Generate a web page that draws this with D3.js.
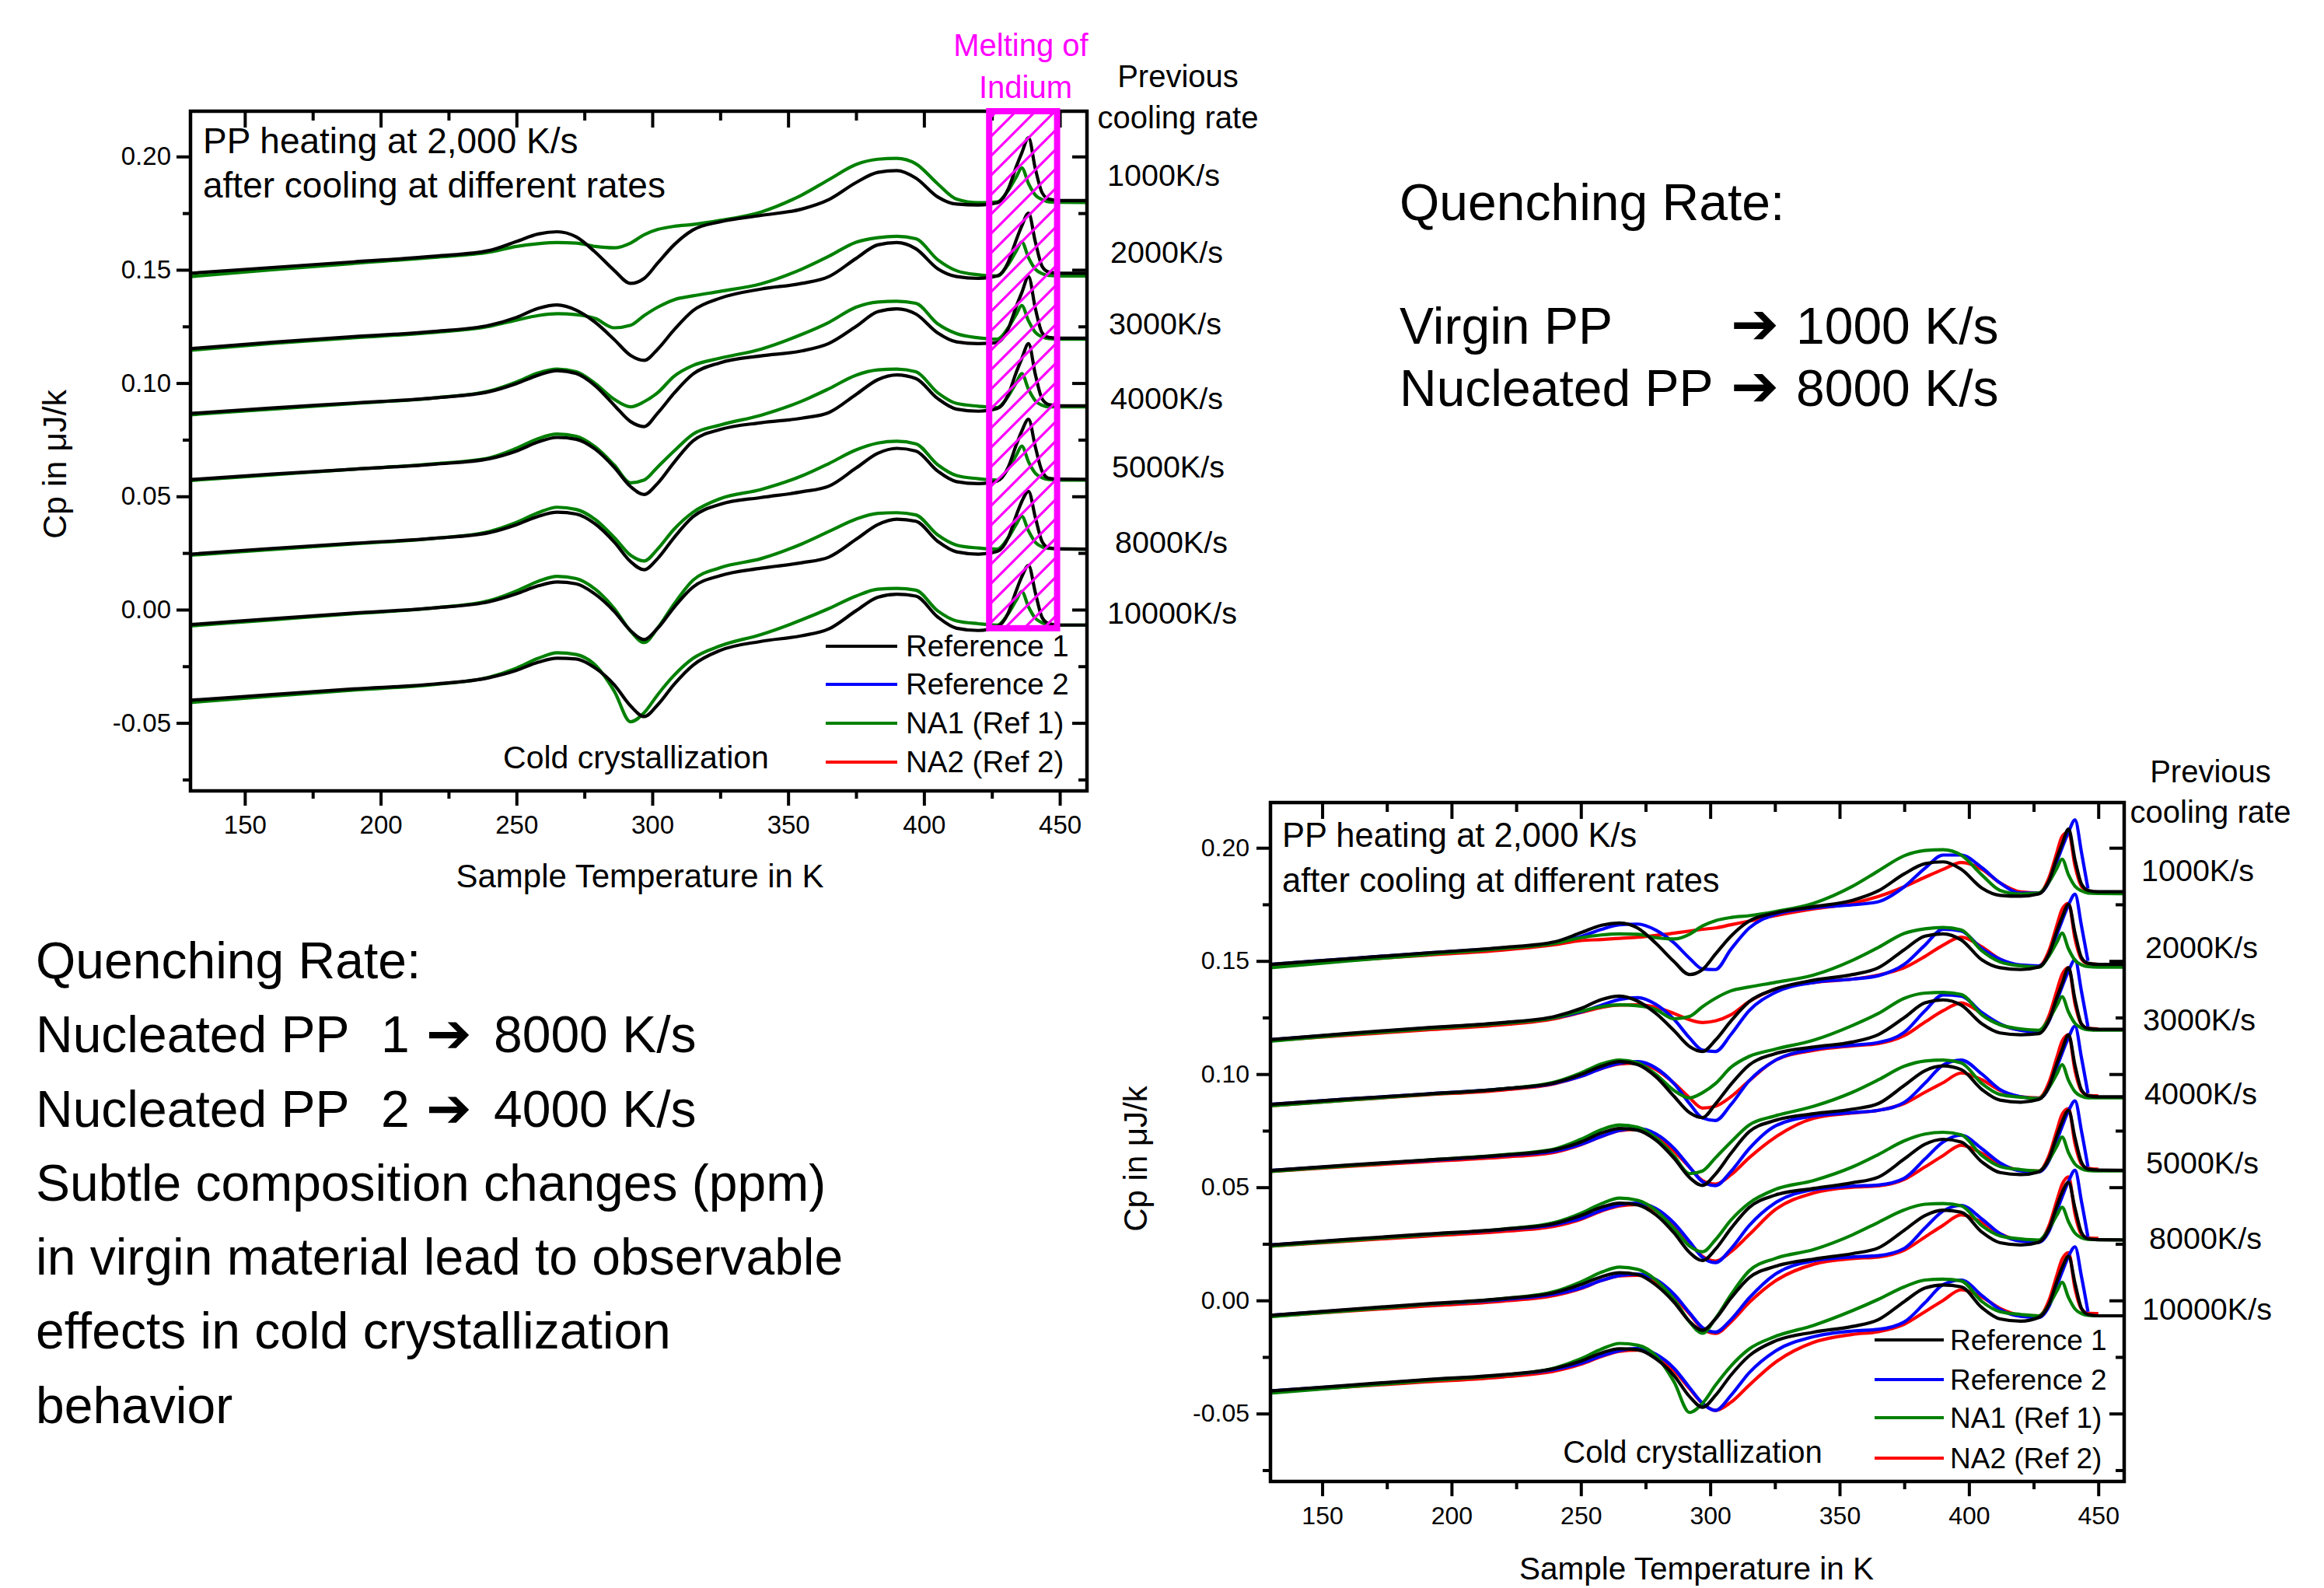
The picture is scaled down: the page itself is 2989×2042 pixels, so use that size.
<!DOCTYPE html>
<html>
<head>
<meta charset="utf-8">
<script src="https://cdn.jsdelivr.net/npm/d3@7"></script>
<style>
  body { margin: 0; background: #fff; overflow: hidden; }
  text { font-family: "Liberation Sans", Arial, sans-serif; }
</style>
</head>
<body>
<svg id="slide" width="2989" height="2042"></svg>
<script>
// sample temperatures (K), shared by every trace
const temps = [130, 160, 190, 220, 240, 250, 258, 265, 272, 279, 286, 292, 297, 302, 308,
  315, 325, 340, 355, 365, 375, 383, 390, 397, 405, 412, 420, 427, 431, 434, 436, 438.5,
  441, 443.5, 446, 450, 460];

const rateLabels = ["1000K/s", "2000K/s", "3000K/s", "4000K/s", "5000K/s", "8000K/s", "10000K/s"];

// Reference 1 (black), one row per previous cooling rate
const ref1 = [
  [.1485,.1510,.1535,.1560,.1585,.1625,.1658,.1668,.1645,.1578,.1497,.1440,.1462,.1530,.1610,.1676,.1712,.1740,.1768,.1810,.1885,.1930,.1938,.1905,.1822,.1790,.1786,.1796,.1856,.1956,.2016,.2083,.1946,.1840,.1812,.1806,.1806],
  [.1152,.1180,.1205,.1228,.1255,.1290,.1330,.1345,.1322,.1268,.1192,.1122,.1100,.1150,.1235,.1320,.1375,.1415,.1440,.1470,.1550,.1610,.1620,.1593,.1505,.1470,.1462,.1473,.1533,.1633,.1693,.1750,.1623,.1515,.1490,.1485,.1485],
  [.0866,.0890,.0912,.0935,.0962,.0998,.1035,.1055,.1042,.0988,.0902,.0830,.0808,.0868,.0955,.1040,.1090,.1120,.1142,.1175,.1250,.1315,.1328,.1305,.1222,.1182,.1174,.1179,.1239,.1339,.1399,.1470,.1329,.1222,.1202,.1198,.1198],
  [.0574,.0598,.0620,.0642,.0666,.0700,.0740,.0760,.0752,.0708,.0628,.0543,.0508,.0558,.0650,.0745,.0795,.0825,.0845,.0870,.0950,.1015,.1036,.1020,.0932,.0885,.0876,.0888,.0948,.1048,.1108,.1174,.1038,.0930,.0905,.0900,.0900],
  [.0245,.0270,.0293,.0315,.0340,.0375,.0412,.0430,.0422,.0378,.0298,.0212,.0176,.0226,.0318,.0410,.0465,.0495,.0520,.0545,.0625,.0690,.0712,.0700,.0612,.0565,.0556,.0568,.0628,.0728,.0788,.0840,.0718,.0610,.0580,.0576,.0575],
  [-.0066,-.0040,-.0015,.0008,.0035,.0070,.0105,.0122,.0114,.0068,-.0008,-.0093,-.0132,-.0082,.0010,.0100,.0150,.0183,.0207,.0232,.0310,.0375,.0399,.0390,.0302,.0255,.0245,.0257,.0317,.0417,.0477,.0522,.0407,.0300,.0272,.0268,.0267],
  [-.0400,-.0375,-.0350,-.0328,-.0300,-.0268,-.0232,-.0214,-.0218,-.0258,-.0332,-.0425,-.0472,-.0420,-.0330,-.0245,-.0180,-.0140,-.0115,-.0085,-.0005,.0055,.0068,.0060,-.0032,-.0082,-.0092,-.0075,-.0015,.0085,.0145,.0195,.0075,-.0035,-.0062,-.0068,-.0068]
];

// Reference 2 (blue)
const ref2 = [
  [.1485,.1510,.1535,.1558,.1580,.1608,.1640,.1660,.1663,.1636,.1580,.1512,.1465,.1462,.1552,.1645,.1705,.1735,.1748,.1762,.1828,.1910,.1968,.1968,.1912,.1845,.1800,.1800,.1850,.1940,.2000,.2070,.2123,.1980,.1820,null,null],
  [.1152,.1178,.1203,.1226,.1250,.1275,.1305,.1330,.1338,.1308,.1242,.1160,.1106,.1100,.1175,.1280,.1360,.1405,.1420,.1435,.1485,.1570,.1640,.1632,.1555,.1508,.1482,.1478,.1528,.1618,.1678,.1748,.1795,.1655,.1500,null,null],
  [.0866,.0890,.0912,.0935,.0960,.0990,.1025,.1048,.1055,.1027,.0958,.0870,.0806,.0795,.0865,.0970,.1060,.1110,.1128,.1140,.1185,.1280,.1350,.1345,.1272,.1222,.1193,.1186,.1236,.1326,.1386,.1456,.1505,.1365,.1210,null,null],
  [.0574,.0597,.0618,.0640,.0660,.0690,.0725,.0752,.0760,.0736,.0672,.0590,.0525,.0507,.0570,.0670,.0770,.0815,.0830,.0840,.0875,.0960,.1040,.1062,.1000,.0932,.0900,.0892,.0942,.1032,.1092,.1162,.1212,.1072,.0915,null,null],
  [.0245,.0268,.0290,.0313,.0335,.0362,.0398,.0422,.0430,.0406,.0342,.0260,.0190,.0167,.0228,.0330,.0430,.0490,.0505,.0510,.0540,.0625,.0700,.0730,.0670,.0608,.0572,.0568,.0618,.0708,.0768,.0838,.0882,.0748,.0590,null,null],
  [-.0066,-.0042,-.0018,.0004,.0028,.0055,.0088,.0110,.0116,.0092,.0027,-.0055,-.0120,-.0140,-.0085,.0010,.0115,.0175,.0192,.0198,.0230,.0320,.0395,.0420,.0360,.0295,.0262,.0257,.0307,.0397,.0457,.0527,.0575,.0437,.0280,null,null],
  [-.0400,-.0377,-.0352,-.0330,-.0305,-.0278,-.0245,-.0222,-.0212,-.0238,-.0300,-.0385,-.0455,-.0486,-.0420,-.0320,-.0225,-.0160,-.0135,-.0128,-.0095,-.0010,.0070,.0090,.0022,-.0040,-.0070,-.0075,-.0025,.0065,.0125,.0195,.0237,.0105,-.0050,null,null]
];

// NA1 (Ref 1), green
const na1 = [
  [.1470,.1500,.1528,.1555,.1578,.1603,.1615,.1620,.1618,.1603,.1597,.1618,.1655,.1678,.1692,.1700,.1718,.1755,.1830,.1898,.1965,.1988,.1992,.1968,.1880,.1812,.1796,.1800,.1850,.1910,.1950,.1880,.1830,.1810,.1800,.1798,.1797],
  [.1145,.1175,.1200,.1224,.1250,.1278,.1298,.1306,.1302,.1285,.1244,.1255,.1298,.1335,.1368,.1385,.1405,.1438,.1503,.1560,.1622,.1642,.1648,.1637,.1545,.1496,.1478,.1473,.1523,.1583,.1623,.1553,.1503,.1483,.1475,.1473,.1473],
  [.0860,.0885,.0910,.0935,.0965,.1005,.1045,.1062,.1050,.0998,.0928,.0895,.0918,.0958,.1030,.1078,.1110,.1150,.1215,.1268,.1335,.1358,.1361,.1352,.1262,.1218,.1200,.1194,.1244,.1304,.1342,.1274,.1224,.1204,.1196,.1194,.1194],
  [.0570,.0595,.0620,.0644,.0670,.0712,.0755,.0775,.0765,.0718,.0638,.0560,.0572,.0630,.0700,.0775,.0815,.0858,.0920,.0975,.1035,.1058,.1062,.1050,.0958,.0910,.0898,.0892,.0942,.1002,.1042,.0972,.0922,.0902,.0895,.0895,.0895],
  [.0240,.0265,.0290,.0315,.0345,.0385,.0428,.0452,.0442,.0398,.0318,.0240,.0215,.0268,.0355,.0430,.0490,.0530,.0590,.0645,.0705,.0735,.0743,.0732,.0640,.0592,.0578,.0572,.0622,.0682,.0722,.0652,.0602,.0582,.0574,.0572,.0572],
  [-.0072,-.0045,-.0018,.0008,.0040,.0082,.0125,.0147,.0137,.0090,.0005,-.0095,-.0145,-.0080,.0025,.0130,.0185,.0225,.0290,.0345,.0400,.0425,.0428,.0418,.0330,.0285,.0272,.0267,.0317,.0377,.0412,.0347,.0297,.0277,.0270,.0268,.0267],
  [-.0410,-.0382,-.0355,-.0330,-.0298,-.0258,-.0215,-.0190,-.0198,-.0245,-.0360,-.0495,-.0455,-.0375,-.0290,-.0215,-.0160,-.0110,-.0045,.0005,.0060,.0090,.0094,.0086,-.0005,-.0050,-.0062,-.0068,-.0018,.0042,.0080,.0012,-.0038,-.0058,-.0066,-.0068,-.0068]
];

// NA2 (Ref 2), red
const na2 = [
  [.1480,.1503,.1525,.1548,.1572,.1590,.1595,.1600,.1605,.1613,.1623,.1632,.1640,.1646,.1660,.1676,.1700,.1730,.1755,.1785,.1828,.1870,.1905,.1935,.1905,.1845,.1805,.1800,.1870,.1980,.2050,.2070,.1920,.1830,.1810,.1802,null],
  [.1148,.1172,.1195,.1218,.1245,.1272,.1295,.1305,.1306,.1295,.1268,.1240,.1228,.1235,.1262,.1320,.1375,.1405,.1420,.1438,.1470,.1520,.1570,.1605,.1562,.1508,.1480,.1478,.1548,.1658,.1728,.1755,.1598,.1508,.1488,.1485,null],
  [.0860,.0885,.0908,.0930,.0958,.0990,.1025,.1045,.1048,.1020,.0960,.0895,.0850,.0858,.0900,.0970,.1060,.1105,.1125,.1135,.1170,.1230,.1280,.1315,.1268,.1220,.1195,.1190,.1260,.1370,.1440,.1470,.1310,.1220,.1202,.1200,null],
  [.0570,.0592,.0613,.0633,.0655,.0688,.0725,.0750,.0755,.0726,.0660,.0588,.0530,.0514,.0555,.0630,.0720,.0805,.0828,.0840,.0870,.0920,.0962,.1005,.0975,.0928,.0900,.0895,.0965,.1075,.1145,.1174,.1015,.0925,.0906,.0904,null],
  [.0240,.0262,.0284,.0305,.0328,.0358,.0395,.0418,.0424,.0396,.0330,.0255,.0195,.0174,.0215,.0290,.0400,.0475,.0500,.0506,.0535,.0590,.0640,.0686,.0650,.0603,.0575,.0572,.0642,.0752,.0822,.0847,.0692,.0602,.0584,.0580,null],
  [-.0070,-.0047,-.0025,-.0003,.0022,.0052,.0088,.0108,.0111,.0083,.0016,-.0060,-.0125,-.0146,-.0095,-.0010,.0085,.0160,.0185,.0192,.0222,.0280,.0332,.0378,.0345,.0295,.0265,.0262,.0332,.0442,.0512,.0546,.0382,.0292,.0276,.0274,null],
  [-.0405,-.0382,-.0360,-.0338,-.0312,-.0282,-.0248,-.0225,-.0220,-.0250,-.0310,-.0390,-.0455,-.0486,-.0450,-.0375,-.0275,-.0185,-.0150,-.0138,-.0105,-.0050,.0000,.0047,.0015,-.0035,-.0065,-.0068,.0002,.0112,.0182,.0211,.0052,-.0038,-.0056,-.0058,null]
];

const legendNames = ["Reference 1", "Reference 2", "NA1 (Ref 1)", "NA2 (Ref 2)"];
const legendColors = ["#000000", "#0000ff", "#008000", "#ff0000"];

const xMajor = [150, 200, 250, 300, 350, 400, 450];
const xMinor = [175, 225, 275, 325, 375, 425];
const yMajor = [-0.05, 0.00, 0.05, 0.10, 0.15, 0.20];
const yMinor = [-0.075, -0.025, 0.025, 0.075, 0.125, 0.175];

const indiumBand = [424, 449];        // K
const indiumLevels = [-0.0082, 0.22];  // Cp

const magenta = "#ff00ff";
const svg = d3.select("#slide");

const defs = svg.append("defs");
const pat = defs.append("pattern")
  .attr("id", "hatch")
  .attr("patternUnits", "userSpaceOnUse")
  .attr("width", 25).attr("height", 25);
pat.append("path")
  .attr("d", "M-3,3 L3,-3 M0,25 L25,0 M22,28 L28,22")
  .attr("stroke", magenta).attr("stroke-width", 3.2);

///////////////////
// PANEL DRAWING //
///////////////////

function drawPanel(p) {
  const g = svg.append("g");
  const x = d3.scaleLinear().domain([130, 460]).range([p.left, p.right]);
  const y = d3.scaleLinear().domain([-0.08, 0.22]).range([p.bottom, p.top]);

  defs.append("clipPath").attr("id", "clip" + p.id)
    .append("rect")
    .attr("x", p.left).attr("y", p.top)
    .attr("width", p.right - p.left).attr("height", p.bottom - p.top);

  const line = d3.line()
    .defined(d => d[1] != null)
    .x(d => x(d[0]))
    .y(d => y(d[1]))
    .curve(d3.curveMonotoneX);

  const curves = g.append("g").attr("clip-path", "url(#clip" + p.id + ")");
  p.series.forEach(s => {
    s.rows.forEach(vals => {
      curves.append("path")
        .datum(temps.map((t, i) => [t, vals[i]]))
        .attr("d", line)
        .attr("fill", "none")
        .attr("stroke", s.color)
        .attr("stroke-width", 4.2)
        .attr("stroke-linejoin", "round");
    });
  });

  // axes
  const styleAxis = (a, size) => {
    a.select(".domain").remove();
    a.attr("font-family", '"Liberation Sans", Arial, sans-serif').attr("font-size", size);
    a.selectAll(".tick line").attr("stroke", "#000").attr("stroke-width", 4);
    a.selectAll(".tick text").attr("fill", "#000");
  };

  g.append("g").attr("transform", "translate(0," + p.bottom + ")")
    .call(d3.axisBottom(x).tickValues(xMajor).tickSize(19).tickPadding(p.xPad).tickFormat(d3.format("d")))
    .call(a => styleAxis(a, p.tickFont));
  g.append("g").attr("transform", "translate(0," + p.bottom + ")")
    .call(d3.axisBottom(x).tickValues(xMinor).tickSize(10).tickFormat(""))
    .call(a => styleAxis(a, p.tickFont));
  g.append("g").attr("transform", "translate(0," + p.top + ")")
    .call(d3.axisTop(x).tickValues(xMajor).tickSize(-21).tickFormat(""))
    .call(a => styleAxis(a, p.tickFont));
  g.append("g").attr("transform", "translate(0," + p.top + ")")
    .call(d3.axisTop(x).tickValues(xMinor).tickSize(-12).tickFormat(""))
    .call(a => styleAxis(a, p.tickFont));

  g.append("g").attr("transform", "translate(" + p.left + ",0)")
    .call(d3.axisLeft(y).tickValues(yMajor).tickSize(18).tickPadding(p.yPad).tickFormat(d => d.toFixed(2)))
    .call(a => styleAxis(a, p.tickFont));
  g.append("g").attr("transform", "translate(" + p.left + ",0)")
    .call(d3.axisLeft(y).tickValues(yMinor).tickSize(10).tickFormat(""))
    .call(a => styleAxis(a, p.tickFont));
  g.append("g").attr("transform", "translate(" + p.right + ",0)")
    .call(d3.axisRight(y).tickValues(yMajor).tickSize(-19).tickFormat(""))
    .call(a => styleAxis(a, p.tickFont));
  g.append("g").attr("transform", "translate(" + p.right + ",0)")
    .call(d3.axisRight(y).tickValues(yMinor).tickSize(-11).tickFormat(""))
    .call(a => styleAxis(a, p.tickFont));

  g.append("rect")
    .attr("x", p.left).attr("y", p.top)
    .attr("width", p.right - p.left).attr("height", p.bottom - p.top)
    .attr("fill", "none").attr("stroke", "#000").attr("stroke-width", 4.5);

  // axis titles
  g.append("text")
    .attr("x", p.xTitle[0]).attr("y", p.xTitle[1])
    .attr("text-anchor", "middle").attr("font-size", p.xTitleFont)
    .text("Sample Temperature in K");
  g.append("text")
    .attr("transform", "translate(" + p.yTitle[0] + "," + p.yTitle[1] + ") rotate(-90)")
    .attr("text-anchor", "middle").attr("font-size", p.yTitleFont)
    .text("Cp in \u03bcJ/k");

  // annotation inside frame
  ["PP heating at 2,000 K/s", "after cooling at different rates"].forEach((t, i) => {
    g.append("text")
      .attr("x", p.note[0]).attr("y", p.note[1][i])
      .attr("font-size", p.noteFont).text(t);
  });
  g.append("text")
    .attr("x", p.cold[0]).attr("y", p.cold[1])
    .attr("text-anchor", "middle").attr("font-size", p.coldFont)
    .text("Cold crystallization");

  // legend
  legendNames.forEach((name, i) => {
    g.append("line")
      .attr("x1", p.legend.x1).attr("x2", p.legend.x2)
      .attr("y1", p.legend.rows[i]).attr("y2", p.legend.rows[i])
      .attr("stroke", legendColors[i]).attr("stroke-width", 4);
    g.append("text")
      .attr("x", p.legend.tx).attr("y", p.legend.rows[i])
      .attr("dy", "0.35em").attr("font-size", p.legend.font)
      .text(name);
  });

  // cooling-rate labels
  g.append("text")
    .attr("x", p.prev[0]).attr("y", p.prev[1])
    .attr("text-anchor", "middle").attr("font-size", 40).text("Previous");
  g.append("text")
    .attr("x", p.prev[0]).attr("y", p.prev[2])
    .attr("text-anchor", "middle").attr("font-size", 40).text("cooling rate");
  rateLabels.forEach((r, i) => {
    g.append("text")
      .attr("x", p.rateX[i]).attr("y", p.rateY[i])
      .attr("font-size", 39.5).text(r);
  });

  return { g, x, y };
}

const panelA = drawPanel({
  id: "A", left: 245, right: 1398, top: 143, bottom: 1017,
  series: [{ rows: na1, color: "#008000" }, { rows: ref1, color: "#000000" }],
  tickFont: 33, xPad: 13, yPad: 7,
  xTitle: [823, 1141], xTitleFont: 42,
  yTitle: [85, 597], yTitleFont: 43,
  note: [261, [197, 254]], noteFont: 46,
  cold: [818, 988], coldFont: 41,
  legend: { x1: 1062, x2: 1154, tx: 1165, rows: [831, 880, 930, 980], font: 38.5 },
  prev: [1515, 112, 165],
  rateX: [1424, 1428, 1426, 1428, 1430, 1434, 1424],
  rateY: [239, 338, 430, 526, 614, 711, 802]
});

// indium melting window on the first panel
panelA.g.append("rect")
  .attr("x", panelA.x(indiumBand[0]))
  .attr("y", panelA.y(indiumLevels[1]))
  .attr("width", panelA.x(indiumBand[1]) - panelA.x(indiumBand[0]))
  .attr("height", panelA.y(indiumLevels[0]) - panelA.y(indiumLevels[1]))
  .attr("fill", "url(#hatch)")
  .attr("stroke", magenta).attr("stroke-width", 8);
panelA.g.append("text")
  .attr("x", 1313).attr("y", 72).attr("text-anchor", "middle")
  .attr("font-size", 40).attr("fill", magenta).text("Melting of");
panelA.g.append("text")
  .attr("x", 1319).attr("y", 126).attr("text-anchor", "middle")
  .attr("font-size", 40).attr("fill", magenta).text("Indium");

drawPanel({
  id: "B", left: 1634, right: 2732, top: 1032, bottom: 1905,
  series: [
    { rows: na2, color: "#ff0000" },
    { rows: ref2, color: "#0000ff" },
    { rows: na1, color: "#008000" },
    { rows: ref1, color: "#000000" }
  ],
  tickFont: 32, xPad: 13, yPad: 9,
  xTitle: [2182, 2031], xTitleFont: 40.5,
  yTitle: [1475, 1490], yTitleFont: 42,
  note: [1649, [1089, 1147]], noteFont: 43.5,
  cold: [2177, 1881], coldFont: 40,
  legend: { x1: 2411, x2: 2500, tx: 2508, rows: [1723, 1774, 1823, 1875], font: 37 },
  prev: [2843, 1006, 1058],
  rateX: [2754, 2759, 2756, 2758, 2760, 2764, 2755],
  rateY: [1133, 1232, 1325, 1420, 1509, 1606, 1697]
});

/////////////////
// SLIDE TEXTS //
/////////////////

const arrowFont = '"DejaVu Sans", sans-serif';

svg.append("text").attr("x", 1800).attr("y", 283).attr("font-size", 66).text("Quenching Rate:");
[["Virgin PP", "1000 K/s", 442], ["Nucleated PP", "8000 K/s", 522]].forEach(([a, b, yy]) => {
  svg.append("text").attr("x", 1800).attr("y", yy).attr("font-size", 66).text(a);
  svg.append("text").attr("x", 2226).attr("y", yy).attr("font-size", 74)
    .attr("font-weight", "bold").style("font-family", arrowFont).text("\u2794");
  svg.append("text").attr("x", 2310).attr("y", yy).attr("font-size", 66).text(b);
});

const notes = [
  "Quenching Rate:",
  null,
  null,
  "Subtle composition changes (ppm)",
  "in virgin material lead to observable",
  "effects in cold crystallization",
  "behavior"
];
const noteY = [1258, 1353, 1449, 1544, 1639, 1734, 1830];
notes.forEach((t, i) => {
  if (t) svg.append("text").attr("x", 46).attr("y", noteY[i]).attr("font-size", 66).text(t);
});
[["1", "8000 K/s"], ["2", "4000 K/s"]].forEach(([n, v], i) => {
  const yy = noteY[i + 1];
  svg.append("text").attr("x", 46).attr("y", yy).attr("font-size", 66).text("Nucleated PP");
  svg.append("text").attr("x", 490).attr("y", yy).attr("font-size", 66).text(n);
  svg.append("text").attr("x", 548).attr("y", yy).attr("font-size", 70)
    .attr("font-weight", "bold").style("font-family", arrowFont).text("\u2794");
  svg.append("text").attr("x", 635).attr("y", yy).attr("font-size", 66).text(v);
});
</script>
</body>
</html>
